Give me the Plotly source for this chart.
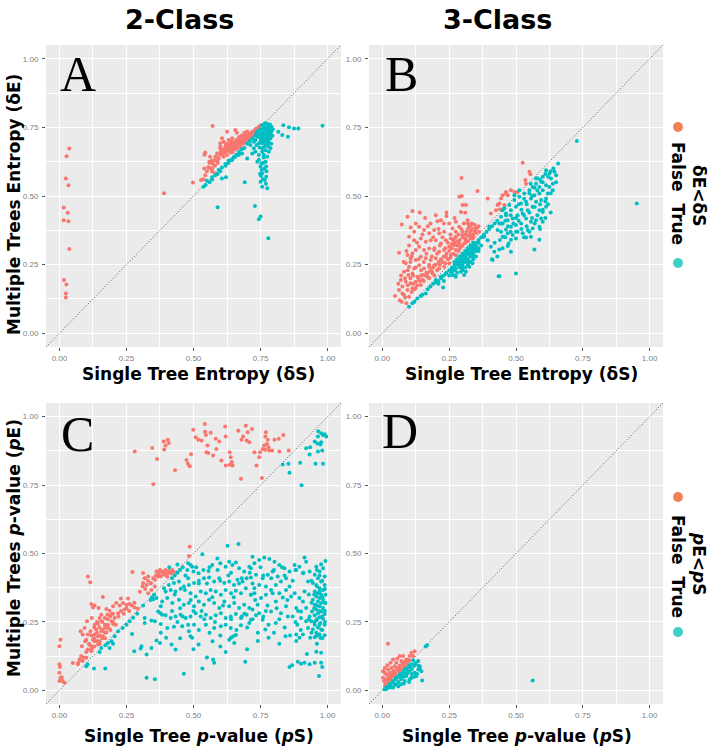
import plotly.graph_objects as go

TICK_VALS = [0, 0.25, 0.5, 0.75, 1.0]
TICK_TEXT = ["0.00", "0.25", "0.50", "0.75", "1.00"]
MINOR_VALS = [0.125, 0.375, 0.625, 0.875]
COLUMN_TITLES = ["2-Class", "3-Class"]
PANEL_LETTERS = ["A", "B", "C", "D"]
LEGEND_LEVELS = ["False", "True"]

# Panel A (2-class entropy): (single tree, multiple trees)
A_false = [(0.037,0.673),(0.027,0.645),(0.024,0.564),(0.034,0.539),(0.016,0.458),(0.031,0.439),
 (0.016,0.412),(0.034,0.408),(0.037,0.307),(0.017,0.194),(0.026,0.178),(0.024,0.145),(0.024,0.13),
 (0.39,0.51),(0.498,0.549),(0.528,0.558),(0.571,0.755),
 (0.625,0.734),(0.656,0.74),(0.662,0.73),(0.606,0.71),(0.612,0.698),(0.6,0.692),(0.631,0.704),
 (0.644,0.71),(0.675,0.716),(0.694,0.722),(0.706,0.728),(0.719,0.734),(0.731,0.743),(0.744,0.752),
 (0.75,0.758),(0.544,0.658),(0.541,0.65),(0.562,0.643),(0.569,0.629),(0.581,0.643),(0.588,0.655),
 (0.6,0.674),(0.619,0.68),(0.631,0.686),(0.644,0.692),(0.656,0.698),(0.669,0.704),(0.681,0.706),
 (0.694,0.71),(0.606,0.661),(0.619,0.667),(0.631,0.67),(0.644,0.677),(0.656,0.682),(0.662,0.692),
 (0.625,0.649),(0.638,0.658),(0.594,0.637),(0.575,0.613),(0.562,0.601),(0.569,0.589),(0.581,0.583),
 (0.544,0.576),(0.537,0.561),(0.559,0.625),(0.59,0.625),(0.612,0.643),(0.706,0.716),(0.719,0.722),
 (0.725,0.728),(0.738,0.738),
 (0.62,0.66),(0.63,0.665),(0.64,0.67),(0.65,0.68),(0.66,0.685),(0.67,0.69),(0.68,0.695),(0.69,0.70),
 (0.70,0.705),(0.71,0.715),(0.72,0.72),(0.73,0.73),(0.74,0.74),(0.645,0.66),(0.655,0.67),(0.665,0.675),
 (0.675,0.68),(0.685,0.69),(0.695,0.697),(0.705,0.71),(0.715,0.725),(0.725,0.735),(0.735,0.745),
 (0.6,0.65),(0.61,0.655),(0.59,0.62),(0.58,0.61),(0.57,0.6),(0.55,0.59),(0.56,0.62),(0.63,0.69),
 (0.64,0.7),(0.66,0.705),(0.67,0.715),(0.68,0.72),(0.69,0.73),(0.70,0.735),(0.62,0.69),(0.65,0.695),(0.6,0.68),
 (0.58,0.63),(0.59,0.64),(0.6,0.66),(0.61,0.67),(0.62,0.675),(0.63,0.68),(0.64,0.685),(0.65,0.69),
 (0.66,0.695),(0.67,0.70),(0.68,0.705),(0.69,0.715),(0.7,0.72),(0.71,0.725),(0.72,0.73),(0.73,0.738),
 (0.74,0.745),(0.57,0.62),(0.555,0.605),(0.54,0.6)]
A_true = [(0.981,0.756),(0.835,0.758),(0.856,0.75),(0.875,0.746),(0.891,0.746),(0.816,0.734),(0.831,0.722),
 (0.852,0.716),(0.796,0.743),(0.791,0.752),(0.59,0.459),(0.729,0.464),(0.75,0.425),(0.744,0.415),
 (0.779,0.346),(0.691,0.55),(0.606,0.564),(0.621,0.568),(0.537,0.534),
 (0.75,0.607),(0.754,0.595),(0.756,0.583),(0.752,0.573),(0.759,0.561),(0.75,0.552),(0.766,0.558),
 (0.771,0.57),(0.756,0.534),(0.775,0.528),(0.744,0.632),(0.738,0.625),(0.754,0.619),(0.762,0.65),
 (0.756,0.661),(0.731,0.661),(0.725,0.674),(0.712,0.686),(0.719,0.655),(0.744,0.649),(0.7,0.637),
 (0.681,0.655),(0.669,0.649),(0.656,0.643),(0.644,0.631),(0.631,0.629),(0.619,0.617),(0.606,0.604),
 (0.594,0.595),(0.581,0.576),(0.569,0.568),(0.55,0.556),(0.769,0.625),(0.775,0.643),(0.771,0.607),
 (0.756,0.758),(0.766,0.765),(0.775,0.762),(0.781,0.752),(0.771,0.75),(0.762,0.746),(0.75,0.743),
 (0.756,0.734),(0.769,0.738),(0.779,0.734),(0.787,0.728),(0.744,0.728),(0.754,0.722),(0.766,0.722),
 (0.775,0.716),(0.787,0.71),(0.738,0.716),(0.75,0.71),(0.762,0.706),(0.771,0.701),(0.781,0.694),
 (0.756,0.692),(0.744,0.692),(0.769,0.686),(0.779,0.68),(0.787,0.674),(0.731,0.704),(0.725,0.698),
 (0.769,0.667),(0.757,0.674),(0.781,0.661),(0.747,0.677),(0.735,0.686),(0.784,0.743),(0.794,0.719),
 (0.741,0.738),(0.776,0.726),(0.76,0.73),(0.751,0.704),(0.766,0.694),
 (0.70,0.69),(0.71,0.70),(0.72,0.71),(0.73,0.72),(0.69,0.675),(0.68,0.67),(0.67,0.66),(0.66,0.65),
 (0.65,0.64),(0.64,0.63),(0.63,0.62),(0.62,0.61),(0.60,0.59),(0.59,0.58),(0.57,0.56),(0.56,0.55),(0.545,0.54),
 (0.76,0.755),(0.77,0.745),(0.78,0.72),(0.77,0.71),(0.76,0.715),(0.765,0.68),(0.755,0.70),(0.745,0.72),
 (0.735,0.73),(0.78,0.705),(0.79,0.69),(0.775,0.69),(0.785,0.76),(0.79,0.735),(0.762,0.64),(0.76,0.62),
 (0.772,0.59),(0.764,0.6),(0.748,0.58),(0.77,0.545)]

# Panel B (3-class entropy)
B_false = [(0.296,0.566),(0.356,0.518),(0.288,0.497),(0.297,0.5),(0.1125,0.445),(0.094,0.424),(0.0725,0.396),
 (0.0625,0.293),(0.0475,0.136),(0.3,0.467),(0.3125,0.467),(0.294,0.442),(0.31,0.439),(0.206,0.408),
 (0.219,0.412),(0.24,0.427),(0.25,0.4),(0.275,0.406),(0.2625,0.382),(0.2875,0.388),(0.319,0.412),
 (0.331,0.394),(0.3475,0.382),(0.3625,0.37),(0.125,0.4),(0.1375,0.388),(0.106,0.385),(0.119,0.37),
 (0.156,0.376),(0.175,0.364),(0.194,0.376),(0.2125,0.364),(0.231,0.37),(0.1,0.352),(0.119,0.339),
 (0.144,0.345),(0.1625,0.333),(0.181,0.339),(0.2,0.339),(0.219,0.327),(0.2375,0.339),(0.256,0.345),
 (0.275,0.352),(0.3,0.358),(0.3125,0.339),(0.325,0.358),(0.3375,0.345),(0.2875,0.327),(0.269,0.321),
 (0.25,0.315),(0.231,0.303),(0.2125,0.297),(0.194,0.303),(0.175,0.309),(0.156,0.303),(0.1375,0.315),
 (0.125,0.303),(0.1125,0.291),(0.094,0.285),(0.106,0.273),(0.125,0.267),(0.144,0.279),(0.1625,0.273),
 (0.181,0.267),(0.2,0.273),(0.219,0.267),(0.2375,0.279),(0.256,0.285),(0.275,0.303),(0.294,0.315),
 (0.306,0.327),(0.0875,0.255),(0.1,0.242),(0.119,0.236),(0.1375,0.248),(0.156,0.236),(0.175,0.242),
 (0.194,0.248),(0.2125,0.236),(0.231,0.242),(0.25,0.255),(0.081,0.224),(0.0975,0.212),(0.1125,0.218),
 (0.131,0.206),(0.15,0.212),(0.169,0.206),(0.1875,0.218),(0.069,0.194),(0.0875,0.188),(0.106,0.182),
 (0.125,0.188),(0.144,0.176),(0.075,0.17),(0.094,0.158),(0.1125,0.164),(0.081,0.139),(0.1,0.133),
 (0.0725,0.115),(0.09,0.109),(0.0625,0.158),
 (0.30,0.35),(0.31,0.36),(0.32,0.355),(0.33,0.37),(0.32,0.38),(0.30,0.37),(0.29,0.34),(0.31,0.33),
 (0.33,0.345),(0.34,0.36),(0.27,0.33),(0.28,0.32),(0.26,0.31),(0.25,0.30),(0.24,0.29),(0.23,0.28),
 (0.22,0.27),(0.21,0.26),(0.2,0.25),(0.19,0.24),(0.18,0.23),(0.17,0.22),(0.16,0.21),(0.15,0.195),
 (0.14,0.19),(0.13,0.175),(0.12,0.16),(0.11,0.15),(0.35,0.38),(0.36,0.39),(0.345,0.395),(0.335,0.40),(0.32,0.40),
 (0.525,0.621),(0.55,0.588),(0.554,0.579),(0.535,0.558),(0.5375,0.545),(0.4625,0.515),(0.481,0.521),
 (0.494,0.515),(0.45,0.503),(0.469,0.503),(0.444,0.491),(0.4375,0.473),(0.456,0.467),(0.505,0.515),
 (0.394,0.491),(0.431,0.467),(0.425,0.448),(0.44,0.452),(0.4625,0.509),(0.406,0.436),
 (0.085,0.2),(0.095,0.23),(0.105,0.26),(0.115,0.21),(0.125,0.24),(0.135,0.27),(0.145,0.23),(0.155,0.26),
 (0.165,0.29),(0.175,0.25),(0.185,0.28),(0.195,0.31),(0.205,0.29),(0.215,0.32),(0.225,0.35),(0.235,0.31),
 (0.245,0.33),(0.255,0.36),(0.265,0.34),(0.275,0.37),(0.285,0.36),(0.295,0.38),(0.305,0.40),(0.315,0.37),
 (0.325,0.39),(0.335,0.38),(0.345,0.37),(0.355,0.385),(0.29,0.31),(0.30,0.32),(0.31,0.345),(0.32,0.335),
 (0.33,0.355),(0.34,0.35),(0.35,0.365),(0.28,0.335),(0.27,0.345),(0.26,0.325),(0.075,0.145),(0.085,0.13),
 (0.095,0.175),(0.105,0.2),(0.115,0.18),(0.125,0.165),(0.135,0.2),(0.145,0.21),(0.155,0.19),(0.165,0.22),
 (0.175,0.2),(0.185,0.225),(0.195,0.21),(0.205,0.23),(0.215,0.25),(0.225,0.26),(0.235,0.255),(0.245,0.27),
 (0.255,0.275),(0.265,0.29),(0.275,0.285),(0.285,0.3),(0.065,0.12),(0.06,0.18),(0.07,0.21),(0.08,0.26),
 (0.09,0.3),(0.1,0.32),(0.11,0.28),(0.13,0.33),(0.15,0.36),(0.17,0.39),(0.19,0.35),(0.21,0.38),(0.23,0.4),
 (0.27,0.42),(0.24,0.44),(0.2,0.43),(0.16,0.42),(0.14,0.44),(0.18,0.4)]
B_true = [(0.7275,0.70),(0.6575,0.618),(0.644,0.588),(0.625,0.582),(0.6125,0.594),(0.6,0.57),(0.6375,0.545),
 (0.625,0.533),(0.6125,0.539),(0.594,0.552),(0.575,0.545),(0.5625,0.533),(0.55,0.521),(0.531,0.509),
 (0.5125,0.497),(0.494,0.485),(0.475,0.467),(0.456,0.455),(0.6,0.521),(0.5875,0.509),(0.569,0.503),
 (0.6125,0.491),(0.594,0.485),(0.575,0.479),(0.556,0.491),(0.5375,0.479),(0.519,0.473),(0.5,0.461),
 (0.481,0.448),(0.4625,0.436),(0.444,0.424),(0.6125,0.461),(0.6,0.442),(0.5875,0.448),(0.5625,0.461),
 (0.544,0.448),(0.525,0.436),(0.506,0.43),(0.4875,0.418),(0.469,0.412),(0.45,0.4),(0.594,0.418),
 (0.575,0.412),(0.556,0.406),(0.5375,0.418),(0.519,0.4),(0.5,0.394),(0.481,0.388),(0.4625,0.378),
 (0.444,0.37),(0.6,0.406),(0.5875,0.388),(0.5625,0.382),(0.544,0.376),(0.525,0.364),(0.506,0.37),
 (0.4875,0.358),(0.469,0.364),(0.45,0.352),(0.556,0.352),(0.5375,0.349),(0.5875,0.341),(0.5,0.345),
 (0.481,0.341),(0.569,0.305),(0.469,0.318),(0.481,0.297),(0.4375,0.305),(0.5,0.218),(0.4375,0.208),
 (0.45,0.448),(0.4375,0.4),(0.6375,0.521),(0.619,0.509),(0.631,0.564),(0.65,0.576),(0.5875,0.533),
 (0.5125,0.521),(0.494,0.503),(0.58,0.565),(0.575,0.564),(0.555,0.545),(0.952,0.473),
 (0.381,0.352),(0.394,0.339),(0.406,0.315),(0.419,0.297),(0.4125,0.267),(0.435,0.208),(0.431,0.376),
 (0.4,0.388),(0.444,0.4),(0.4625,0.43),(0.456,0.352),(0.4725,0.327),
 (0.2275,0.167),(0.1,0.097),(0.1125,0.109),(0.131,0.127),(0.144,0.136),(0.1625,0.145),(0.2,0.194),
 (0.219,0.206),(0.2375,0.218),(0.256,0.224),(0.275,0.236),(0.2875,0.248),(0.3,0.261),(0.3125,0.273),
 (0.325,0.285),(0.3375,0.297),(0.35,0.309),(0.306,0.212),(0.3125,0.224),(0.294,0.224),(0.325,0.242),
 (0.3375,0.255),(0.275,0.206),(0.2625,0.212),
 (0.28,0.27),(0.29,0.28),(0.30,0.29),(0.31,0.30),(0.32,0.31),(0.33,0.32),(0.34,0.33),(0.29,0.26),
 (0.30,0.27),(0.31,0.28),(0.32,0.29),(0.33,0.30),(0.34,0.31),(0.35,0.32),(0.30,0.25),(0.31,0.26),
 (0.32,0.27),(0.33,0.28),(0.34,0.29),(0.35,0.30),(0.27,0.25),(0.26,0.24),(0.25,0.23),(0.28,0.25),
 (0.29,0.24),(0.31,0.24),(0.33,0.26),(0.35,0.28),(0.36,0.31),(0.36,0.33),(0.34,0.27),(0.27,0.26),
 (0.24,0.22),(0.23,0.21),(0.22,0.2),(0.21,0.19),(0.2,0.185),(0.19,0.18),(0.18,0.17),(0.3,0.23),
 (0.32,0.25),(0.26,0.22),(0.27,0.23),
 (0.25,0.21),(0.26,0.23),(0.27,0.24),(0.28,0.26),(0.29,0.27),(0.30,0.28),(0.31,0.29),(0.32,0.30),
 (0.33,0.31),(0.34,0.32),(0.35,0.33),(0.36,0.34),(0.37,0.35),(0.28,0.22),(0.30,0.24),(0.32,0.26),
 (0.34,0.28),(0.36,0.30),(0.31,0.27),(0.33,0.29),(0.35,0.31),(0.37,0.32),(0.38,0.36),(0.39,0.37),
 (0.40,0.38),(0.41,0.39),(0.42,0.40),(0.43,0.41),(0.29,0.25),(0.27,0.21),(0.23,0.19),(0.21,0.18),
 (0.17,0.16),(0.15,0.14),(0.12,0.115),
 (0.46,0.41),(0.48,0.43),(0.5,0.42),(0.52,0.45),(0.54,0.47),(0.56,0.5),(0.58,0.52),(0.6,0.55),(0.62,0.57),
 (0.64,0.6),(0.47,0.39),(0.49,0.4),(0.51,0.41),(0.53,0.43),(0.55,0.44),(0.57,0.46),(0.59,0.47),(0.61,0.48),
 (0.63,0.51),(0.65,0.55),(0.52,0.38),(0.54,0.39),(0.56,0.42),(0.58,0.43),(0.6,0.45),(0.62,0.47),(0.5,0.37),
 (0.53,0.35),(0.55,0.37),(0.57,0.4),(0.59,0.38),(0.61,0.42),(0.63,0.44),(0.48,0.37),(0.46,0.35),(0.44,0.34),
 (0.42,0.33),(0.45,0.31),(0.43,0.28),(0.41,0.27),(0.51,0.47),(0.53,0.49),(0.55,0.51),(0.57,0.53),(0.59,0.56),
 (0.61,0.58),(0.63,0.59)]

# Panel C (2-class p-value)
C_false = [(0.281,0.873),(0.346,0.886),(0.364,0.845),(0.35,0.753),(0.389,0.909),(0.404,0.916),(0.408,0.904),
 (0.396,0.895),(0.391,0.88),(0.431,0.804),(0.474,0.842),(0.479,0.828),(0.486,0.819),(0.491,0.863),
 (0.499,0.952),(0.508,0.925),(0.518,0.916),(0.53,0.913),(0.542,0.973),(0.543,0.945),(0.546,0.933),
 (0.552,0.895),(0.548,0.87),(0.555,0.867),(0.564,0.941),(0.573,0.858),(0.583,0.919),(0.585,0.882),
 (0.596,0.909),(0.604,0.84),(0.618,0.964),(0.62,0.928),(0.635,0.87),(0.639,0.852),(0.643,0.834),
 (0.635,0.824),(0.646,0.822),(0.62,0.822),(0.667,0.949),(0.677,0.773),(0.679,0.916),(0.685,0.928),
 (0.695,0.967),(0.702,0.943),(0.698,0.913),(0.708,0.907),(0.718,0.955),(0.727,0.87),(0.735,0.822),
 (0.745,0.852),(0.755,0.776),(0.758,0.882),(0.764,0.895),(0.768,0.928),(0.77,0.943),(0.777,0.916),
 (0.783,0.876),(0.774,0.9),(0.78,0.888),(0.768,0.879),(0.793,0.876),(0.802,0.916),(0.818,0.919),
 (0.835,0.933),(0.82,0.873),(0.855,0.876),(0.748,0.87),
 (0.272,0.432),(0.106,0.416),(0.115,0.395),(0.004,0.185),(0.0,0.161),(0.0,0.095),(0.002,0.085),
 (0.0,0.064),(0.004,0.046),(0.0,0.034),(0.012,0.034),(0.009,0.048),(0.019,0.028),(0.05,0.1),
 (0.069,0.095),(0.075,0.113),(0.081,0.125),(0.087,0.107),(0.1,0.119),(0.079,0.216),(0.119,0.315),
 (0.131,0.31),(0.125,0.303),(0.146,0.301),(0.162,0.341),(0.156,0.276),(0.121,0.264),(0.103,0.252),
 (0.094,0.228),(0.087,0.204),(0.096,0.179),(0.084,0.161),(0.106,0.149),(0.119,0.143),(0.112,0.167),
 (0.125,0.185),(0.131,0.204),(0.137,0.222),(0.144,0.242),(0.156,0.252),(0.169,0.264),(0.179,0.276),
 (0.187,0.291),(0.2,0.307),(0.212,0.319),(0.225,0.31),(0.237,0.319),(0.25,0.313),(0.262,0.315),
 (0.281,0.303),(0.293,0.298),(0.219,0.282),(0.206,0.264),(0.194,0.252),(0.181,0.24),(0.169,0.228),
 (0.156,0.216),(0.144,0.198),(0.131,0.179),(0.119,0.161),(0.15,0.179),(0.162,0.198),(0.175,0.212),
 (0.187,0.224),(0.2,0.242),(0.144,0.167),(0.106,0.204),(0.1,0.185),(0.116,0.216),(0.131,0.24),
 (0.15,0.264),(0.175,0.297),(0.194,0.279),(0.243,0.295),(0.256,0.336),(0.229,0.336),(0.318,0.41),
 (0.331,0.416),(0.312,0.392),(0.325,0.385),(0.341,0.392),(0.356,0.404),(0.343,0.367),(0.356,0.379),
 (0.331,0.355),(0.312,0.429),(0.362,0.434),(0.375,0.44),(0.368,0.416),(0.387,0.428),
 (0.383,0.434),(0.396,0.44),(0.408,0.436),(0.421,0.44),(0.389,0.422),(0.402,0.416),(0.415,0.428),
 (0.427,0.432),(0.377,0.416),(0.371,0.428),(0.486,0.525),(0.483,0.491),
 (0.12,0.2),(0.13,0.19),(0.14,0.21),(0.15,0.2),(0.16,0.22),(0.17,0.21),(0.18,0.23),(0.19,0.22),(0.2,0.25),
 (0.21,0.24),(0.13,0.23),(0.14,0.25),(0.15,0.23),(0.16,0.25),(0.17,0.24),(0.18,0.26),(0.19,0.27),(0.2,0.28),
 (0.11,0.17),(0.12,0.15),(0.13,0.16),(0.14,0.18),(0.15,0.17),(0.16,0.19),(0.17,0.19),(0.1,0.14),(0.09,0.12),
 (0.08,0.11),(0.07,0.1),(0.22,0.27),(0.23,0.29),(0.24,0.28),(0.25,0.3),(0.26,0.29),(0.27,0.31),(0.28,0.32),
 (0.3,0.36),(0.31,0.38),(0.32,0.37),(0.33,0.4),(0.34,0.39),(0.35,0.41),(0.36,0.42),(0.39,0.43),(0.4,0.425),
 (0.41,0.43),(0.42,0.435)]
C_true = [(0.833,0.825),(0.854,0.828),(0.858,0.795),(0.898,0.832),(0.903,0.749),(0.92,0.885),(0.935,0.888),
 (0.933,0.862),(0.955,0.828),(0.983,0.828),(0.965,0.947),(0.976,0.939),(0.964,0.928),(0.983,0.933),
 (0.995,0.928),(0.989,0.936),(0.952,0.909),(0.962,0.902),(0.976,0.907),(0.973,0.898),(0.964,0.873),(0.98,0.876),
 (0.271,0.206),(0.279,0.143),(0.303,0.153),(0.306,0.161),(0.325,0.131),(0.325,0.046),(0.356,0.04),
 (0.171,0.08),(0.129,0.08),(0.1,0.088),(0.105,0.095),(0.156,0.155),(0.172,0.165),(0.181,0.173),
 (0.194,0.179),(0.206,0.198),(0.219,0.216),(0.236,0.228),(0.25,0.24),(0.262,0.252),(0.275,0.265),
 (0.29,0.28),(0.15,0.14),(0.187,0.155),(0.2,0.17),(0.312,0.31),(0.318,0.264),(0.318,0.246),
 (0.343,0.255),(0.356,0.252),(0.35,0.333),(0.34,0.33),(0.362,0.337),(0.353,0.349),(0.345,0.34),
 (0.378,0.307),(0.368,0.288),(0.383,0.276),(0.378,0.242),(0.378,0.21),(0.343,0.155),(0.362,0.182),(0.375,0.173),
 (0.627,0.528),(0.668,0.535),(0.533,0.497),(0.48,0.464),(0.489,0.458),(0.495,0.452),(0.477,0.44),
 (0.5,0.434),(0.519,0.428),(0.537,0.44),(0.556,0.436),(0.57,0.458),(0.589,0.482),(0.6,0.464),
 (0.62,0.452),(0.633,0.47),(0.645,0.458),(0.658,0.467),(0.67,0.446),(0.689,0.434),(0.708,0.452),
 (0.72,0.488),(0.714,0.412),(0.698,0.41),(0.683,0.398),(0.664,0.404),(0.651,0.385),(0.633,0.398),
 (0.615,0.392),(0.596,0.41),(0.577,0.398),(0.558,0.412),(0.539,0.41),(0.52,0.4),(0.502,0.392),
 (0.483,0.385),(0.464,0.379),(0.446,0.398),(0.427,0.392),(0.408,0.385),(0.39,0.373),(0.396,0.361),
 (0.415,0.367),(0.433,0.361),(0.452,0.371),(0.468,0.367),(0.489,0.355),(0.508,0.343),(0.527,0.361),
 (0.546,0.355),(0.564,0.367),(0.583,0.361),(0.602,0.349),(0.62,0.367),(0.64,0.355),(0.658,0.364),
 (0.677,0.355),(0.695,0.373),(0.714,0.349),(0.727,0.355),(0.383,0.325),(0.402,0.337),(0.421,0.319),
 (0.446,0.331),(0.464,0.313),(0.483,0.319),(0.502,0.307),(0.52,0.325),(0.539,0.313),(0.558,0.331),
 (0.577,0.319),(0.596,0.301),(0.615,0.325),(0.633,0.307),(0.652,0.319),(0.67,0.301),(0.689,0.313),
 (0.708,0.301),(0.377,0.282),(0.396,0.274),(0.415,0.264),(0.433,0.27),(0.452,0.276),(0.471,0.264),
 (0.489,0.27),(0.508,0.282),(0.527,0.27),(0.546,0.276),(0.564,0.264),(0.583,0.274),(0.602,0.282),
 (0.62,0.264),(0.639,0.27),(0.658,0.279),(0.677,0.264),(0.698,0.276),(0.714,0.258),(0.427,0.232),
 (0.402,0.228),(0.458,0.234),(0.502,0.24),(0.546,0.24),(0.577,0.228),(0.602,0.234),(0.639,0.228),
 (0.677,0.238),(0.708,0.246),(0.398,0.192),(0.418,0.167),(0.433,0.149),(0.483,0.216),(0.489,0.198),
 (0.495,0.192),(0.519,0.167),(0.571,0.179),(0.633,0.185),(0.64,0.192),(0.648,0.198),(0.658,0.202),
 (0.652,0.173),(0.573,0.113),(0.577,0.101),(0.533,0.08),(0.464,0.061),(0.693,0.104),
 (0.44,0.43),(0.45,0.44),(0.46,0.45),(0.42,0.41),(0.43,0.42),
 (0.914,0.485),(0.992,0.473),(0.976,0.461),(0.958,0.452),(0.983,0.446),(0.97,0.434),(0.952,0.422),
 (0.989,0.416),(0.964,0.41),(0.976,0.398),(0.945,0.392),(0.958,0.385),(0.989,0.385),(0.97,0.373),
 (0.983,0.367),(0.952,0.361),(0.964,0.355),(0.976,0.349),(0.992,0.349),(0.958,0.343),(0.97,0.337),
 (0.983,0.331),(0.945,0.331),(0.964,0.325),(0.976,0.319),(0.992,0.319),(0.952,0.313),(0.97,0.307),
 (0.983,0.301),(0.958,0.295),(0.976,0.288),(0.942,0.288),(0.964,0.282),(0.989,0.279),(0.952,0.274),
 (0.97,0.267),(0.983,0.262),(0.958,0.255),(0.939,0.252),(0.973,0.246),(0.952,0.24),(0.989,0.24),
 (0.964,0.23),(0.976,0.222),(0.945,0.222),(0.958,0.21),(0.97,0.204),(0.989,0.201),(0.952,0.194),
 (0.973,0.192),(0.935,0.192),(0.927,0.228),(0.933,0.27),(0.92,0.301),(0.908,0.325),(0.914,0.361),
 (0.927,0.398),(0.933,0.434),(0.908,0.428),(0.895,0.452),(0.883,0.44),(0.877,0.458),
 (0.923,0.133),(0.958,0.141),(0.976,0.137),(0.858,0.085),(0.868,0.092),(0.889,0.104),(0.901,0.097),
 (0.914,0.101),(0.933,0.095),(0.952,0.101),(0.976,0.101),(0.98,0.085),(0.968,0.052),(0.895,0.192),
 (0.883,0.204),(0.908,0.204),(0.887,0.24),(0.87,0.27),(0.845,0.307),(0.833,0.339),(0.807,0.325),
 (0.776,0.31),(0.768,0.222),(0.78,0.192),(0.843,0.198),(0.807,0.246),(0.758,0.258),(0.733,0.274),
 (0.72,0.295),(0.739,0.313),(0.752,0.337),(0.77,0.349),(0.789,0.367),(0.807,0.385),(0.826,0.398),
 (0.845,0.41),(0.858,0.434),(0.839,0.446),(0.82,0.458),(0.802,0.47),(0.783,0.48),(0.764,0.485),
 (0.745,0.476),(0.727,0.464),(0.714,0.446),(0.733,0.422),(0.758,0.41),(0.777,0.422),(0.795,0.434),
 (0.814,0.416),(0.858,0.379),(0.877,0.355),(0.895,0.337),(0.883,0.301),(0.864,0.343),(0.845,0.367),
 (0.82,0.355),(0.795,0.355),(0.77,0.379),(0.745,0.385),(0.727,0.373),(0.714,0.349),(0.745,0.282),
 (0.789,0.288),(0.826,0.282),(0.852,0.27),(0.901,0.288),(0.901,0.264),(0.92,0.252),(0.883,0.18),
 (0.41,0.45),(0.43,0.35),(0.45,0.3),(0.47,0.42),(0.49,0.33),(0.51,0.45),(0.53,0.29),(0.55,0.39),(0.57,0.34),
 (0.59,0.44),(0.61,0.31),(0.63,0.42),(0.65,0.34),(0.67,0.39),(0.69,0.28),(0.71,0.43),(0.73,0.33),(0.75,0.45),
 (0.77,0.29),(0.79,0.41),(0.81,0.3),(0.83,0.45),(0.85,0.33),(0.87,0.4),(0.89,0.29),(0.91,0.43),(0.93,0.35),
 (0.42,0.29),(0.44,0.25),(0.46,0.27),(0.48,0.24),(0.5,0.29),(0.52,0.22),(0.54,0.26),(0.56,0.21),(0.58,0.25),
 (0.6,0.2),(0.62,0.24),(0.64,0.26),(0.66,0.22),(0.68,0.27),(0.7,0.23),(0.72,0.26),(0.74,0.21),(0.76,0.27),
 (0.78,0.24),(0.8,0.21),(0.82,0.26),(0.84,0.23),(0.86,0.2),(0.88,0.25),(0.9,0.22),
 (0.44,0.46),(0.48,0.41),(0.52,0.39),(0.56,0.45),(0.6,0.4),(0.64,0.43),(0.68,0.41),(0.72,0.39),(0.76,0.42),
 (0.8,0.44),(0.84,0.42),(0.88,0.44),(0.92,0.47),
 (0.96,0.44),(0.97,0.42),(0.98,0.40),(0.96,0.38),(0.97,0.36),(0.98,0.34),(0.99,0.32),(0.96,0.31),(0.97,0.29),
 (0.98,0.27),(0.99,0.25),(0.96,0.26),(0.97,0.24),(0.98,0.22),(0.96,0.2),(0.95,0.35),(0.95,0.3),(0.95,0.25),
 (0.99,0.37),(0.99,0.29),(0.94,0.4),(0.94,0.32),(0.93,0.26),(0.94,0.21),(0.98,0.19),(0.96,0.17),
 (0.5,0.15),(0.55,0.12),(0.6,0.16),(0.7,0.15),(0.62,0.14),(0.45,0.19),(0.74,0.18),(0.82,0.17)]

# Panel D (3-class p-value)
D_false = [(0.021,0.17),(0.065,0.125),(0.0775,0.125),(0.109,0.137),(0.1025,0.125),(0.09,0.113),(0.071,0.107),
 (0.0525,0.101),(0.046,0.088),(0.034,0.082),(0.021,0.076),(0.009,0.064),(0.0025,0.046),(0.015,0.058),
 (0.0275,0.064),(0.04,0.07),(0.059,0.082),(0.0775,0.095),(0.096,0.107),(0.115,0.125),(0.121,0.143),
 (0.006,0.034),(0.011,0.022),(0.021,0.04),(0.034,0.052),(0.046,0.061),(0.065,0.073),(0.084,0.087),
 (0.1,0.11),(0.0025,0.07),(0.009,0.082),(0.019,0.092),(0.031,0.101),(0.04,0.113),(0.056,0.116),
 (0.01,0.015),(0.02,0.03),(0.03,0.04),(0.04,0.05),(0.05,0.06),(0.06,0.07),(0.07,0.08),(0.08,0.09),
 (0.09,0.10),(0.1,0.11),(0.015,0.04),(0.025,0.05),(0.035,0.06),(0.045,0.07),(0.055,0.08),(0.065,0.09),
 (0.075,0.1),(0.085,0.105)]
D_true = [(0.167,0.165),(0.162,0.16),(0.134,0.107),(0.14,0.088),(0.134,0.076),(0.146,0.07),(0.149,0.036),
 (0.121,0.095),(0.1025,0.088),(0.109,0.076),(0.121,0.064),(0.1275,0.052),(0.109,0.046),(0.09,0.052),
 (0.071,0.046),(0.096,0.064),(0.0775,0.064),(0.084,0.076),(0.065,0.058),(0.0525,0.046),(0.04,0.034),
 (0.0275,0.022),(0.015,0.012),(0.008,0.004),(0.059,0.028),(0.084,0.034),(0.1025,0.04),(0.046,0.022),
 (0.071,0.022),(0.021,0.01),(0.034,0.012),(0.1,0.092),(0.09,0.08),(0.08,0.07),(0.07,0.06),(0.05,0.045),
 (0.03,0.025),(0.115,0.11),(0.5625,0.036),
 (0.02,0.01),(0.03,0.02),(0.04,0.03),(0.05,0.04),(0.06,0.05),(0.07,0.055),(0.08,0.065),(0.09,0.075),
 (0.1,0.085),(0.11,0.095),(0.05,0.02),(0.06,0.03),(0.07,0.04),(0.08,0.05),(0.09,0.06),(0.1,0.07),
 (0.11,0.08),(0.12,0.09),(0.04,0.01),(0.06,0.015),(0.08,0.025),(0.1,0.03),(0.12,0.05),(0.13,0.06),
 (0.14,0.08),(0.11,0.06),(0.125,0.1),(0.135,0.09),(0.015,0.005),(0.03,0.01)]

PANELS = [(A_false, A_true), (B_false, B_true), (C_false, C_true), (D_false, D_true)]

COL_FALSE = "#F8766D"
COL_TRUE = "#00BFC4"
W, H = 720, 752

def fx(px):
    return px / W

def fy(py):
    return 1 - py / H

# panel pixel boxes (left, right, top, bottom)
BOXES = [(46, 341, 45, 347), (369, 663, 45, 347), (46, 341, 403, 704), (369, 663, 403, 704)]

fig = go.Figure()
for i, (fal, tru) in enumerate(PANELS):
    sfx = "" if i == 0 else str(i + 1)
    xa, ya = "x" + sfx, "y" + sfx
    fig.add_trace(go.Scatter(x=[-0.05, 1.05], y=[-0.05, 1.05], mode="lines",
                             line=dict(color="#555555", width=1, dash="1px,2px"),
                             xaxis=xa, yaxis=ya, showlegend=False, hoverinfo="skip"))
    fig.add_trace(go.Scatter(x=[p[0] for p in fal], y=[p[1] for p in fal], mode="markers",
                             marker=dict(color=COL_FALSE, size=4, line=dict(width=0)),
                             xaxis=xa, yaxis=ya, showlegend=False))
    fig.add_trace(go.Scatter(x=[p[0] for p in tru], y=[p[1] for p in tru], mode="markers",
                             marker=dict(color=COL_TRUE, size=4, line=dict(width=0)),
                             xaxis=xa, yaxis=ya, showlegend=False))

axis_common = dict(range=[-0.05, 1.05], tickmode="array", tickvals=TICK_VALS, ticktext=TICK_TEXT,
                   showgrid=True, gridcolor="white", gridwidth=1.2, zeroline=False, showline=False,
                   ticks="outside", ticklen=3, tickwidth=1, tickcolor="#555555",
                   tickfont=dict(family="Liberation Sans", size=8, color="#7f7f7f"),
                   minor=dict(tickmode="array", tickvals=MINOR_VALS, showgrid=True,
                              gridcolor="white", gridwidth=0.5, ticks=""))
layout_axes = {}
for i, (l, r, t, b) in enumerate(BOXES):
    sfx = "" if i == 0 else str(i + 1)
    layout_axes["xaxis" + sfx] = dict(axis_common, domain=[fx(l), fx(r)], anchor="y" + sfx)
    layout_axes["yaxis" + sfx] = dict(axis_common, domain=[fy(b), fy(t)], anchor="x" + sfx, ticklabelstandoff=2)

fig.update_layout(width=W, height=H, margin=dict(l=0, r=0, t=0, b=0),
                  plot_bgcolor="#EBEBEB", paper_bgcolor="white", showlegend=False, **layout_axes)

ann = []
bold = dict(family="DejaVu Sans", color="black")
# column titles
for txt, cx in zip(COLUMN_TITLES, [179, 497]):
    ann.append(dict(text="<b>%s</b>" % txt, x=fx(cx), y=fy(20), xref="paper", yref="paper",
                    showarrow=False, font=dict(bold, size=27), xanchor="center", yanchor="middle"))
# panel letters
for txt, (cx, cy) in zip(PANEL_LETTERS, [(78, 74), (401, 74), (77, 434), (400, 431)]):
    ann.append(dict(text=txt, x=fx(cx), y=fy(cy), xref="paper", yref="paper", showarrow=False,
                    font=dict(family="Liberation Serif", size=50, color="black"),
                    xanchor="center", yanchor="middle"))
# axis titles
xt_entropy = "<b>Single Tree Entropy (δS)</b>"
xt_p = "<b>Single Tree <i>p</i>-value (<i>p</i>S)</b>"
for txt, cx, cy in [(xt_entropy, 198, 374), (xt_entropy, 521, 374), (xt_p, 199, 736), (xt_p, 517, 736)]:
    ann.append(dict(text=txt, x=fx(cx), y=fy(cy), xref="paper", yref="paper", showarrow=False,
                    font=dict(bold, size=17), xanchor="center", yanchor="middle"))
for txt, cy in [("<b>Multiple Trees Entropy (δE)</b>", 205),
                ("<b>Multiple Trees <i>p</i>-value (<i>p</i>E)</b>", 548)]:
    ann.append(dict(text=txt, x=fx(14), y=fy(cy), xref="paper", yref="paper", showarrow=False,
                    textangle=-90, font=dict(bold, size=17), xanchor="center", yanchor="middle"))
# legends
for title, ty, ly in [("<b>δE&lt;δS</b>", 195, 193), ("<b><i>p</i>E&lt;<i>p</i>S</b>", 563, 566)]:
    ann.append(dict(text=title, x=fx(699), y=fy(ty), xref="paper", yref="paper", showarrow=False,
                    textangle=90, font=dict(bold, size=17), xanchor="center", yanchor="middle"))
    ann.append(dict(text="<b>%s</b>" % "  ".join(LEGEND_LEVELS), x=fx(678), y=fy(ly), xref="paper",
                    yref="paper", showarrow=False, textangle=90, font=dict(bold, size=17),
                    xanchor="center", yanchor="middle"))
fig.update_layout(annotations=ann)

shapes = []
for cy, col in [(127, "#EE8454"), (263, "#40CFC6"), (497, "#EE8454"), (632, "#40CFC6")]:
    shapes.append(dict(type="circle", xref="paper", yref="paper", xsizemode="pixel", ysizemode="pixel",
                       xanchor=fx(678), yanchor=fy(cy), x0=-5, x1=5, y0=-5, y1=5,
                       fillcolor=col, line=dict(width=0)))
fig.update_layout(shapes=shapes)

fig.write_html("out.html", config={"displayModeBar": False},
               post_script="document.body.style.margin='0px';document.body.style.overflow='hidden';")
